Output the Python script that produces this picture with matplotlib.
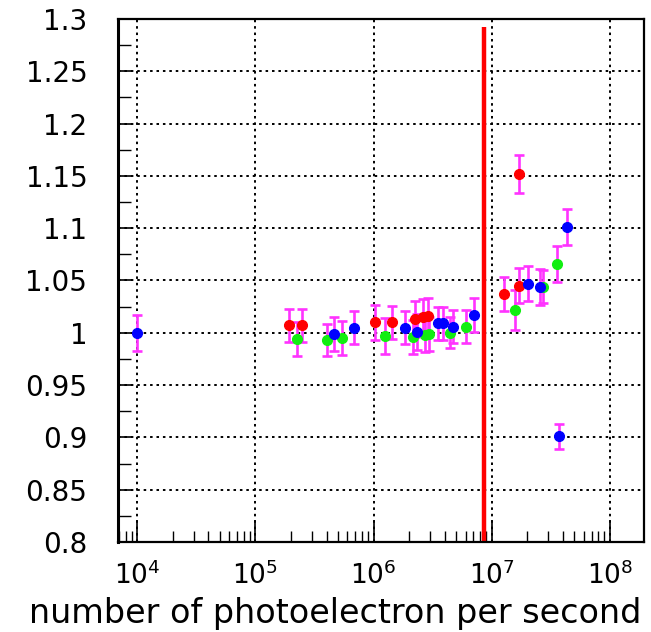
import numpy as np
import matplotlib
matplotlib.use("Agg")
import matplotlib.pyplot as plt
from matplotlib.ticker import FixedLocator, NullFormatter, FixedFormatter

plt.rcParams['font.family'] = ['DejaVu Sans']
plt.rcParams['mathtext.default'] = 'regular'

# ---------------- data ----------------
red_x = [1.92e5, 2.47e5, 1.03e6, 1.43e6, 2.24e6, 2.62e6, 2.89e6, 1.27e7, 1.70e7, 1.70e7]
red_y = [1.007, 1.007, 1.010, 1.010, 1.013, 1.015, 1.016, 1.037, 1.045, 1.152]
red_err = [0.016, 0.016, 0.017, 0.016, 0.017, 0.017, 0.017, 0.016, 0.017, 0.018]

green_x = [2.24e5, 4.03e5, 5.40e5, 1.25e6, 2.15e6, 2.72e6, 2.94e6, 4.43e6, 6.04e6, 1.57e7, 2.71e7, 3.56e7]
green_y = [0.994, 0.993, 0.995, 0.997, 0.996, 0.998, 0.999, 1.000, 1.006, 1.022, 1.044, 1.066]
green_err = [0.016, 0.015, 0.016, 0.017, 0.016, 0.016, 0.016, 0.015, 0.016, 0.019, 0.016, 0.017]

blue_x = [1.0e4, 4.61e5, 6.81e5, 1.84e6, 2.33e6, 3.51e6, 3.86e6, 4.70e6, 7.08e6, 2.03e7, 2.56e7, 3.71e7, 4.34e7]
blue_y = [1.000, 0.999, 1.005, 1.005, 1.001, 1.009, 1.009, 1.006, 1.017, 1.047, 1.044, 0.901, 1.101]
blue_err = [0.017, 0.016, 0.016, 0.016, 0.017, 0.016, 0.016, 0.016, 0.016, 0.017, 0.017, 0.012, 0.017]

cut_x = 8.65e6          # red vertical limit line
cut_top = 1.292

x_ticks = [1e4, 1e5, 1e6, 1e7, 1e8]
x_labels = [r'$10^{4}$', r'$10^{5}$', r'$10^{6}$', r'$10^{7}$', r'$10^{8}$']
y_ticks = [0.8, 0.85, 0.9, 0.95, 1.0, 1.05, 1.1, 1.15, 1.2, 1.25, 1.3]
y_labels = ['0.8', '0.85', '0.9', '0.95', '1', '1.05', '1.1', '1.15', '1.2', '1.25', '1.3']

# ---------------- figure ----------------
fig = plt.figure(figsize=(6.51, 6.32), dpi=100)
ax = fig.add_axes([0.181, 0.1424, 0.808, 0.8276])

ax.set_xscale('log')
ax.set_xlim(6840, 1.94e8)
ax.set_ylim(0.8, 1.3)

# dotted grid
for xv in x_ticks:
    ax.axvline(xv, color='black', lw=1.4, ls=(0, (1.3, 2.0)), zorder=1)
for yv in y_ticks[1:-1]:
    ax.axhline(yv, color='black', lw=1.4, ls=(0, (1.3, 2.0)), zorder=1)

ax.vlines(cut_x, 0.8, cut_top, color='#ff0000', lw=3.2, zorder=2)

series = [(red_x, red_y, red_err, '#ff0000'),
          (green_x, green_y, green_err, '#11ee11'),
          (blue_x, blue_y, blue_err, '#0000ff')]
for xs, ys, es, c in series:
    ax.errorbar(xs, ys, yerr=es, fmt='none', ecolor='#ff33ff', elinewidth=1.9,
                capsize=3.8, capthick=1.9, zorder=3)
for xs, ys, es, c in series:
    ax.plot(xs, ys, 'o', color=c, ms=7, mec=c, zorder=4)

# axes styling
ax.xaxis.set_major_locator(FixedLocator(x_ticks))
ax.xaxis.set_major_formatter(FixedFormatter(x_labels))
minor = [m * 10**d for d in range(3, 9) for m in range(2, 10)]
ax.xaxis.set_minor_locator(FixedLocator(minor))
ax.xaxis.set_minor_formatter(NullFormatter())
ax.yaxis.set_major_locator(FixedLocator(y_ticks))
ax.yaxis.set_major_formatter(FixedFormatter(y_labels))
ax.yaxis.set_minor_locator(FixedLocator(np.arange(0.825, 1.3, 0.05)))

ax.tick_params(axis='x', which='major', direction='in', length=16, width=1.2,
               labelsize=19, pad=14, top=False)
ax.tick_params(axis='x', which='minor', direction='in', length=8, width=1.0, top=False)
ax.tick_params(axis='y', which='major', direction='in', length=10, width=1.2,
               labelsize=20, pad=22, right=False)
ax.tick_params(axis='y', which='minor', direction='in', length=9, width=1.0, right=False)

for s in ax.spines.values():
    s.set_linewidth(1.6)
ax.spines['left'].set_linewidth(2.2)

ax.set_xlabel('number of photoelectron per second', fontsize=24, ha='right', x=0.995, labelpad=5)

plt.savefig('out.png', dpi=100)
